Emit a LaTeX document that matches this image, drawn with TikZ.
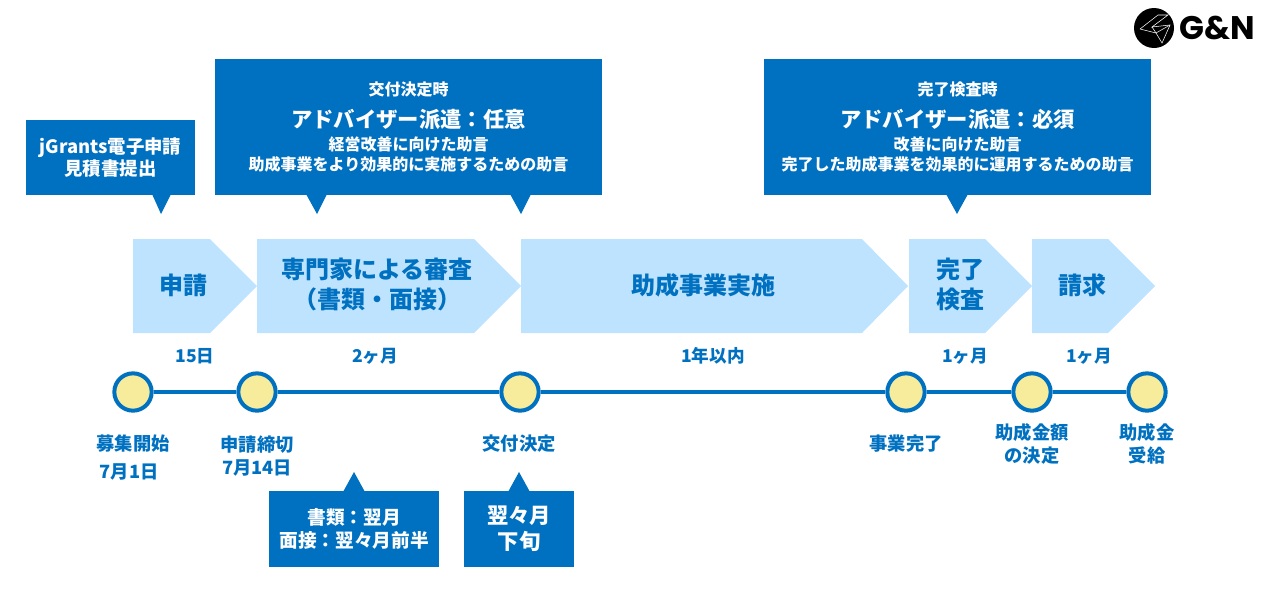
\documentclass[tikz,border=0pt]{standalone}
\usepackage{fontspec}
\setmainfont{Noto Sans CJK JP}
\newfontfamily\logofont{Poppins}
\definecolor{gnblue}{RGB}{0,112,192}
\definecolor{gnlight}{RGB}{189,227,255}
\definecolor{gnyellow}{RGB}{247,236,156}
\newcommand{\fs}[2]{\fontsize{#1}{#2}\selectfont}
\newcommand{\zcolon}{\char"FF1A\relax}
\newcommand{\zopen}{\char"FF08\relax}
\newcommand{\zclose}{\char"FF09\relax}

\begin{document}
\begin{tikzpicture}[x=.75pt, y=-.75pt,
    bluebox/.style={fill=gnblue, text=white, align=center, inner sep=0pt, font=\bfseries},
    chevtext/.style={text=gnblue, align=center, font=\bfseries\fs{18}{22.5}},
    period/.style={text=gnblue, font=\bfseries\fs{13.2}{15}},
    milestone/.style={circle, draw=gnblue, line width=3pt, fill=gnyellow, minimum size=28pt, inner sep=0pt},
    msltext/.style={text=gnblue, align=center, font=\bfseries\fs{13.7}{17}}]
    \useasboundingbox (0,0) rectangle (1280,596);

    % logo
    \fill[black] (1154,28) circle (20);
    \draw[white, line width=.4pt] (1140,29) -- (1158,15) -- (1168,15) -- (1152,27) -- (1170,25) -- (1162,43) -- (1156,33) -- (1140,29);
    \draw[white, line width=.4pt] (1152,27) -- (1156,33) -- (1170,25);
    \node (logo) at (1217,28) {\logofont\bfseries\fs{24.5}{25}G\&N};

    % callouts
    \node[bluebox, minimum width=126.75pt, minimum height=56.25pt] (apply) at (110.5,157.5)
        {\fs{13.8}{18}jGrants電子申請\\ \fs{13.8}{18}見積書提出};
    \fill[gnblue] (152,194) -- (171,194) -- (161,214) -- cycle;
    \node[bluebox, minimum width=290.25pt, minimum height=102pt] (grant) at (408.5,127)
        {\fs{12}{15}交付決定時\\[8.5pt] \fs{16}{20}アドバイザー派遣\zcolon 任意\\[5.5pt] \fs{12}{15}経営改善に向けた助言\\[3pt] \fs{12}{15}助成事業をより効果的に実施するための助言};
    \fill[gnblue] (306,194) -- (327,194) -- (317,214) -- cycle;
    \fill[gnblue] (510,194) -- (531,194) -- (521,214) -- cycle;
    \node[bluebox, minimum width=290.25pt, minimum height=102pt] (inspect) at (957.5,127)
        {\fs{12}{15}完了検査時\\[8.5pt] \fs{16}{20}アドバイザー派遣\zcolon 必須\\[5.5pt] \fs{12}{15}改善に向けた助言\\[3pt] \fs{12}{15}完了した助成事業を効果的に運用するための助言};
    \fill[gnblue] (946,194) -- (968,194) -- (957,214) -- cycle;

    % process
    \fill[gnlight] (133,239) -- (210,239) -- (257,286) -- (210,333) -- (133,333) -- cycle;
    \fill[gnlight] (257,239) -- (474,239) -- (521,286) -- (474,333) -- (257,333) -- cycle;
    \fill[gnlight] (521,239) -- (862,239) -- (908,286) -- (862,333) -- (521,333) -- cycle;
    \fill[gnlight] (909,239) -- (985,239) -- (1032,286) -- (985,333) -- (909,333) -- cycle;
    \fill[gnlight] (1032,239) -- (1108,239) -- (1155,286) -- (1108,333) -- (1032,333) -- cycle;
    \node[chevtext] (shinsei) at (183,285) {申請};
    \node[chevtext] (review) at (377,284) {専門家による審査\\ \zopen 書類・面接\zclose};
    \node[chevtext] (project) at (703,285) {助成事業実施};
    \node[chevtext] (check) at (960,284) {完了\\ 検査};
    \node[chevtext] (claim) at (1082,285) {請求};

    % periods
    \node[period] (p1) at (195,356) {15日};
    \node[period] (p2) at (375,356) {2ヶ月};
    \node[period] (p3) at (713,356) {1年以内};
    \node[period] (p4) at (965,356) {1ヶ月};
    \node[period] (p5) at (1089,356) {1ヶ月};

    % timeline
    \node[milestone] (m1) at (133,392) {};
    \node[milestone] (m2) at (257,392) {};
    \node[milestone] (m3) at (520,392) {};
    \node[milestone] (m4) at (906,392) {};
    \node[milestone] (m5) at (1032,392) {};
    \node[milestone] (m6) at (1147,392) {};
    \draw[gnblue, line width=3pt] (m1) -- (m2);
    \draw[gnblue, line width=3pt] (m2) -- (m3);
    \draw[gnblue, line width=3pt] (m3) -- (m4);
    \draw[gnblue, line width=3pt] (m4) -- (m5);
    \draw[gnblue, line width=3pt] (m5) -- (m6);

    \node[msltext] (t1) at (133,444) {募集開始};
    \node[msltext] (d1) at (129,472) {7月1日};
    \node[msltext] (t2) at (257,456) {申請締切\\ 7月14日};
    \node[msltext] (t3) at (519,444) {交付決定};
    \node[msltext] (t4) at (906,444) {事業完了};
    \node[msltext] (t5) at (1032,444) {助成金額\\ の決定};
    \node[msltext] (t6) at (1147,444) {助成金\\ 受給};

    % bottom callouts
    \node[bluebox, minimum width=127.5pt, minimum height=57pt] (docs) at (354,529)
        {\fs{14}{18}書類\zcolon 翌月\\[3pt] \fs{14}{18}面接\zcolon 翌々月前半};
    \fill[gnblue] (343,492) -- (365,492) -- (354,472) -- cycle;
    \node[bluebox, minimum width=82.5pt, minimum height=57pt] (result) at (519,529)
        {\fs{16}{19.5}翌々月\\[3pt] \fs{16}{19.5}下旬};
    \fill[gnblue] (508,492) -- (530,492) -- (519,472) -- cycle;
\end{tikzpicture}
\end{document}
